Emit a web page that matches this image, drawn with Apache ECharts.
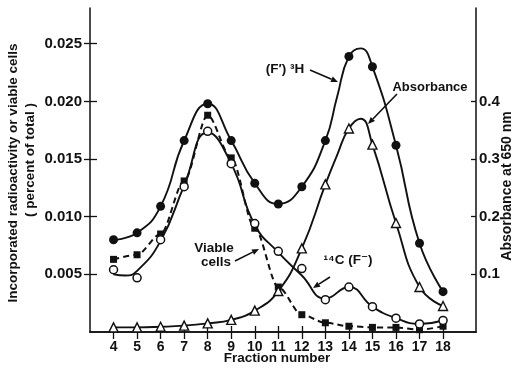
<!DOCTYPE html>
<html>
<head>
<meta charset="utf-8">
<script src="https://cdn.jsdelivr.net/npm/echarts@6/dist/echarts.min.js"></script>
<style>
  html, body { margin: 0; padding: 0; background: #fff; }
  #chart { width: 514px; height: 369px; }
</style>
</head>
<body>
<div id="chart"></div>
<script>
// fraction numbers on the x axis
var fractions = [4, 5, 6, 7, 8, 9, 10, 11, 12, 13, 14, 15, 16, 17, 18];

// measured points (percent of total)
var tritium = [0.0080, 0.0086, 0.0109, 0.0166, 0.0198, 0.0166, 0.0129, 0.0111, 0.0126, 0.0166, 0.0239, 0.0230, 0.0162, 0.0077, 0.0035];
var viable = [0.0063, 0.0067, 0.0085, 0.0131, 0.0188, 0.0151, 0.0090, 0.0039, 0.0015, 0.0008, 0.0005, 0.0004, 0.0004, 0.0002, 0.0005];
var carbon14 = [0.0054, 0.0047, 0.0080, 0.0126, 0.0174, 0.0146, 0.0094, 0.0070, 0.0055, 0.0028, 0.0039, 0.0022, 0.0012, 0.0007, 0.0010];
// absorbance at 650 nm (right axis)
var absorbance = [0.008, 0.008, 0.009, 0.011, 0.015, 0.021, 0.037, 0.071, 0.145, 0.256, 0.353, 0.325, 0.189, 0.078, 0.045];

// hand drawn fit curves as [fraction, value]
var tritiumCurve = [[4, 0.0080], [5, 0.0086], [6, 0.0109], [7, 0.0166], [8, 0.0198], [9, 0.0166], [10, 0.0129], [11, 0.0111], [12, 0.0126], [13, 0.0166], [13.5, 0.0204], [14, 0.0239], [14.5, 0.0246], [15, 0.0230], [16, 0.0162], [17, 0.0077], [18, 0.0035]];
var carbonCurve = [[4, 0.0050], [4.5, 0.0049], [5, 0.0053], [6, 0.0079], [7, 0.0127], [8, 0.0173], [9, 0.0146], [10, 0.0093], [11, 0.0069], [12, 0.0049], [13, 0.0029], [14, 0.0039], [15, 0.0022], [16, 0.0012], [17, 0.0007], [18, 0.0010]];
var absorbCurve = [[4, 0.008], [5, 0.008], [6, 0.009], [7, 0.011], [8, 0.015], [9, 0.021], [10, 0.037], [11, 0.071], [12, 0.145], [13, 0.256], [13.5, 0.307], [14, 0.353], [14.5, 0.370], [15, 0.325], [16, 0.189], [17, 0.078], [18, 0.045]];

// tick labels
var leftTicks = [0.005, 0.010, 0.015, 0.020, 0.025];
var rightTicks = [0.1, 0.2, 0.3, 0.4];

var font = '"Liberation Sans", "DejaVu Sans", Arial, sans-serif';
var ink = '#111';

function pairs(ys) {
  return fractions.map(function (f, i) { return [f, ys[i]]; });
}

function arrow(x1, y1, x2, y2) {
  var a = Math.atan2(y2 - y1, x2 - x1), len = 7, w = 3;
  var bx = x2 - len * Math.cos(a), by = y2 - len * Math.sin(a);
  return [
    {type: 'line', shape: {x1: x1, y1: y1, x2: bx, y2: by}, style: {stroke: ink, lineWidth: 1.6}},
    {type: 'polygon', shape: {points: [[x2, y2],
      [bx + w * Math.sin(a), by - w * Math.cos(a)],
      [bx - w * Math.sin(a), by + w * Math.cos(a)]]}, style: {fill: ink}}
  ];
}

function label(text, x, y, size, extra) {
  var o = {type: 'text', x: x, y: y, style: {text: text, font: 'bold ' + size + 'px ' + font,
    fill: ink, align: 'center', verticalAlign: 'middle'}};
  if (extra) Object.assign(o, extra);
  return o;
}

var chart = echarts.init(document.getElementById('chart'));

var xBase = {
  type: 'value', min: 3, max: 19.4,
  axisLine: {lineStyle: {color: ink, width: 1.5}},
  splitLine: {show: false}
};

chart.setOption({
  animation: false,
  backgroundColor: '#fff',
  grid: {left: 90, right: 38, top: 8, bottom: 37},
  xAxis: [
    Object.assign({}, xBase, {
      position: 'bottom',
      axisTick: {inside: true, length: 6, customValues: fractions, lineStyle: {color: ink, width: 1.3}},
      axisLabel: {customValues: fractions, margin: 8, color: ink, fontSize: 14, fontWeight: 'bold', fontFamily: font}
    }),
    Object.assign({}, xBase, {
      position: 'top',
      axisTick: {inside: true, length: 7, customValues: fractions, lineStyle: {color: ink, width: 1.3}},
      axisLabel: {show: false}
    })
  ],
  yAxis: [
    {
      type: 'value', min: 0, max: 0.0281, position: 'left',
      axisLine: {show: true, lineStyle: {color: ink, width: 1.5}},
      axisTick: {show: true, length: 6, customValues: leftTicks, lineStyle: {color: ink, width: 1.3}},
      axisLabel: {customValues: leftTicks, margin: 8, color: ink, fontSize: 15, fontWeight: 'bold', fontFamily: font,
        formatter: function (v) { return v.toFixed(3); }},
      splitLine: {show: false}
    },
    {
      type: 'value', min: 0, max: 0.562, position: 'right',
      axisLine: {show: true, lineStyle: {color: ink, width: 1.5}},
      axisTick: {show: true, inside: true, length: 5, customValues: rightTicks, lineStyle: {color: ink, width: 1.3}},
      axisLabel: {customValues: rightTicks, margin: 3, color: ink, fontSize: 15, fontWeight: 'bold', fontFamily: font,
        formatter: function (v) { return v.toFixed(1); }},
      splitLine: {show: false}
    },
    {
      type: 'value', min: 0, max: 0.0281, position: 'left',
      axisLine: {show: false},
      axisTick: {show: true, inside: true, length: 7, customValues: leftTicks, lineStyle: {color: ink, width: 1.3}},
      axisLabel: {show: false},
      splitLine: {show: false}
    }
  ],
  series: [
    {type: 'line', data: tritiumCurve, smooth: 0.5, showSymbol: false,
      lineStyle: {color: ink, width: 1.9}, z: 2},
    {type: 'line', data: carbonCurve, smooth: 0.5, showSymbol: false,
      lineStyle: {color: ink, width: 1.9}, z: 2},
    {type: 'line', yAxisIndex: 1, data: absorbCurve, smooth: 0.5, showSymbol: false,
      lineStyle: {color: ink, width: 1.9}, z: 2},
    {type: 'line', data: pairs(viable), smooth: 0.3, smoothMonotone: 'x', symbol: 'rect', symbolSize: 7,
      lineStyle: {color: ink, width: 2, type: [6, 4]}, itemStyle: {color: ink, opacity: 1}, z: 3},
    {type: 'scatter', data: pairs(tritium), symbol: 'circle', symbolSize: 9,
      itemStyle: {color: ink, opacity: 1}, z: 4},
    {type: 'scatter', data: pairs(carbon14), symbol: 'circle', symbolSize: 8,
      itemStyle: {color: '#fff', borderColor: ink, borderWidth: 1.5, opacity: 1}, z: 4},
    {type: 'scatter', yAxisIndex: 1, data: pairs(absorbance), symbol: 'triangle', symbolSize: 9,
      itemStyle: {color: '#fff', borderColor: ink, borderWidth: 1.4, opacity: 1}, z: 4}
  ],
  graphic: [
    label('Incorporated radioactivity or viable cells', 13, 173, 13.5, {rotation: Math.PI / 2}),
    label('( percent of total )', 30, 160, 13.5, {rotation: Math.PI / 2}),
    label('Absorbance at 650 nm', 507, 186, 14, {rotation: Math.PI / 2}),
    label('Fraction number', 277, 358, 13.5),
    label('(F\u2032) \u00b3H', 285, 69, 13.5),
    label('Absorbance', 430, 87, 13),
    label('Viable', 214, 248, 13.5),
    label('cells', 216, 262, 13.5),
    label('\u00b9\u2074C (F\u207b)', 348, 260, 13.5)
  ].concat(arrow(310, 70, 338, 82), arrow(397, 94, 368, 124),
           arrow(235, 261, 259, 249), arrow(330, 277, 313, 288))
});
</script>
</body>
</html>
